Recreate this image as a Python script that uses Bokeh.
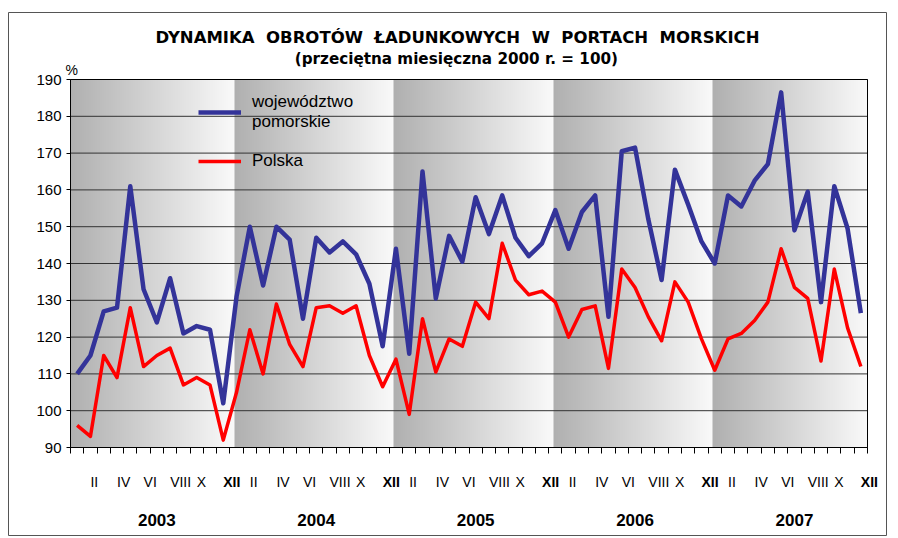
import numpy as np
from bokeh.plotting import figure
from bokeh.models import Range1d, FixedTicker, Label, Legend, LegendItem
from bokeh.embed import file_html
from bokeh.resources import INLINE

# ---------------- data ----------------
years = ["2003", "2004", "2005", "2006", "2007"]
months = ["I", "II", "III", "IV", "V", "VI", "VII", "VIII", "IX", "X", "XI", "XII"]
y_ticks = [90, 100, 110, 120, 130, 140, 150, 160, 170, 180, 190]

pomorskie = [110, 115, 127, 128, 161, 133, 124, 136, 121, 123, 122, 102,
             131, 150, 134, 150, 146.5, 125, 147, 143, 146, 142.5, 134.5, 117.5,
             144, 115.5, 165, 130.5, 147.5, 140.5, 158, 148, 158.5, 147, 142, 145.5,
             154.5, 144, 154, 158.5, 125.5, 170.5, 171.5, 152, 135.5, 165.5, 156, 146,
             140, 158.5, 155.5, 162.5, 167, 186.5, 149, 159.5, 129.5, 161, 149.5, 126.5]
polska = [96, 93, 115, 109, 128, 112, 115, 117, 107, 109, 107, 92,
          105, 122, 110, 129, 118, 112, 128, 128.5, 126.5, 128.5, 115, 106.5,
          114, 99, 125, 110.5, 119.5, 117.5, 129.5, 125, 145.5, 135.5, 131.5, 132.5,
          129.5, 120, 127.5, 128.5, 111.5, 138.5, 133.5, 125.5, 119, 135, 129.5, 119.5,
          111, 119.5, 121, 124.5, 129.5, 144, 133.5, 130.5, 113.5, 138.5, 122.5, 112]

label_blue = "województwo\npomorskie"
label_red = "Polska"
title1_words = ["DYNAMIKA", "OBROTÓW", "ŁADUNKOWYCH", "W", "PORTACH", "MORSKICH"]
title2 = "(przeciętna miesięczna 2000 r. = 100)"

n = len(pomorskie)
nm = len(months)
xs = [i + 0.5 for i in range(n)]
FONT = "Liberation Sans"
NARROW = "Liberation Sans Narrow, Liberation Sans"
TFONT = "DejaVu Sans"

ymin, ymax = y_ticks[0], y_ticks[-1]
# pixel geometry of the frame (outer chart border) and the plot area inside it
PX = 797.0 / n              # px per month
PY = 368.0 / (ymax - ymin)  # px per unit
x_start = -(70 - 8) / PX
x_end = n + (886 - 867) / PX
y_end = ymax + (79 - 12) / PY
y_start = ymin - (535 - 447) / PY

p = figure(width=898, height=538, output_backend="svg", toolbar_location=None,
           x_range=Range1d(x_start, x_end), y_range=Range1d(y_start, y_end),
           min_border_left=8, min_border_top=12, min_border_right=12, min_border_bottom=3)
p.background_fill_color = "white"
p.border_fill_color = "white"
p.outline_line_color = "#555555"
p.outline_line_width = 1
p.xgrid.visible = False
p.ygrid.visible = False

# ---- gradient year bands (slightly shifted background picture, as in the original) ----
shift = 0.35
edges = [0.0] + [k * nm + shift for k in range(1, len(years))] + [float(n)]
cols = 1600
cx = (np.arange(cols) + 0.5) * (n / cols)
band = np.searchsorted(edges, cx, side="right") - 1
lo = np.array(edges)[band]
hi = np.array(edges)[band + 1]
t = (cx - lo) / (hi - lo)
g = (176 + (250 - 176) * t).astype(np.uint32)
img = np.zeros((1, cols), dtype=np.uint32)
img[0, :] = (255 << 24) | (g << 16) | (g << 8) | g
p.image_rgba(image=[img], x=0, y=ymin, dw=n, dh=ymax - ymin, level="image")

# ---- grid lines & plot-area border ----
p.segment(x0=0, x1=n, y0=y_ticks, y1=y_ticks, line_color="#333333", line_width=1)
p.quad(left=0, right=n, bottom=ymin, top=ymax, fill_color=None, line_color="black", line_width=1)

# ---- axes (placed inside the frame) ----
p.yaxis.fixed_location = 0
p.yaxis.bounds = (ymin, ymax)
p.yaxis.ticker = FixedTicker(ticks=y_ticks)
p.yaxis.major_tick_out = 4
p.yaxis.major_tick_in = 0
p.yaxis.minor_tick_line_color = None
p.yaxis.axis_line_color = "black"
p.yaxis.major_tick_line_color = "black"
p.yaxis.major_label_text_font = FONT
p.yaxis.major_label_text_font_size = "15px"
p.yaxis.major_label_text_color = "black"
p.yaxis.major_label_standoff = 5

p.xaxis.fixed_location = ymin
p.xaxis.bounds = (0, n)
p.xaxis.ticker = FixedTicker(ticks=list(range(0, n + 1)))
p.xaxis.major_tick_out = 6
p.xaxis.major_tick_in = 0
p.xaxis.minor_tick_line_color = None
p.xaxis.axis_line_color = "black"
p.xaxis.major_tick_line_color = "black"
p.xaxis.major_label_text_alpha = 0
p.xaxis.major_label_text_font_size = "1px"

# ---- series ----
r_blue = p.line(xs, pomorskie, line_color="#333399", line_width=4.5, line_join="round")
r_red = p.line(xs, polska, line_color="#ff0000", line_width=3.5, line_join="round")

legend = Legend(items=[LegendItem(label=label_blue, renderers=[r_blue]),
                       LegendItem(label=label_red, renderers=[r_red])],
                location=(190, 364), orientation="vertical",
                border_line_color=None, background_fill_alpha=0,
                padding=0, margin=0, spacing=19,
                glyph_width=43, glyph_height=20, label_standoff=11,
                label_text_font=FONT, label_text_font_size="17px",
                label_text_color="black")
p.add_layout(legend)

# ---- texts ----
gap = "\u00a0\u00a0"
title1 = gap.join(title1_words)
p.add_layout(Label(x=29.13, y=201.4, text=title1, text_align="center", text_baseline="middle",
                   text_font=TFONT, text_font_size="16.5px", text_font_style="bold", text_color="black"))
p.add_layout(Label(x=29.05, y=195.7, text=title2, text_align="center", text_baseline="middle",
                   text_font=TFONT, text_font_size="15.2px", text_font_style="bold", text_color="black"))
p.add_layout(Label(x=-0.38, y=192.7, text="%", text_align="left", text_baseline="middle",
                   text_font=FONT, text_font_size="14px", text_color="black"))

for k, yr in enumerate(years):
    for m in range(1, nm, 2):
        bold = (m == nm - 1)
        p.add_layout(Label(x=k * nm + m + 0.5, y=80.76, text=months[m], text_align="left",
                           text_baseline="middle", text_font=NARROW, text_font_size="14px",
                           text_font_style="bold" if bold else "normal", text_color="black"))
    p.add_layout(Label(x=k * nm + 6.5, y=70.4, text=yr, text_align="center", text_baseline="middle",
                       text_font=FONT, text_font_size="17px", text_font_style="bold", text_color="black"))

open("out.html", "w").write(file_html(p, INLINE))
